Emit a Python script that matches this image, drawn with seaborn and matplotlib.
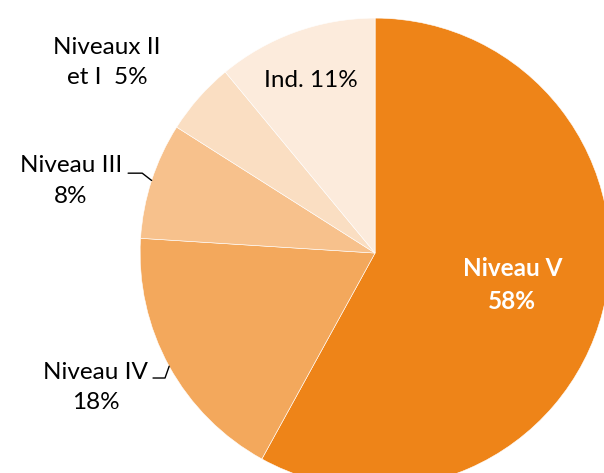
import numpy as np
import matplotlib
matplotlib.use("Agg")
import matplotlib.pyplot as plt
import seaborn as sns

# data
categories = ["Niveau V", "Niveau IV", "Niveau III", "Niveaux II\net I", "Ind."]
shares = [58, 18, 8, 5, 11]
colors = ["#EE8418", "#F3A85C", "#F7C18C", "#FADEC2", "#FCEBDC"]

sns.set_theme(style="white")
plt.rcParams["font.family"] = ["Lato", "DejaVu Sans"]

fig = plt.figure(figsize=(6.04, 4.73), dpi=100)
ax = fig.add_axes([0, 0, 1, 1])

wedges, _ = ax.pie(shares, colors=colors, startangle=90, counterclock=False,
                   wedgeprops=dict(edgecolor="white", linewidth=0.4))

ax.set_aspect("equal")
ax.set_xlim(-1.596, 0.974)
ax.set_ylim(-0.936, 1.077)
ax.axis("off")

# label placement (radius factor, angle offset in degrees, text)
label_layout = [
    (0.60, 1.3, "Niveau V\n{}%", "white", "bold"),
    (1.32, -3.1, "Niveau IV\n{}%", "black", "normal"),
    (1.33, 4.7, "Niveau III\n{}%", "black", "normal"),
    (1.40, 6.0, "Niveaux II\net I  {}%", "black", "normal"),
    (0.785, 0.5, "Ind. {}%", "black", "normal"),
]

mids = []
for w in wedges:
    mids.append(np.deg2rad((w.theta1 + w.theta2) / 2))

for w, th, val, (rf, off, txt, col, wt) in zip(wedges, mids, shares, label_layout):
    a = th + np.deg2rad(off)
    ax.text(rf * np.cos(a), rf * np.sin(a), txt.format(val), ha="center", va="center",
            fontsize=17.5, color=col, fontweight=wt, linespacing=1.55)

# leader lines for Niveau IV and Niveau III
for idx, dy, x0, x1 in [(1, -0.05, -0.945, -0.894), (2, 0.031, -1.051, -0.991)]:
    ex, ey = np.cos(mids[idx]), np.sin(mids[idx])
    ax.plot([x0, x1, ex], [ey + dy, ey + dy, ey], color="black", lw=1.0)

fig.savefig("out.png", dpi=100)
